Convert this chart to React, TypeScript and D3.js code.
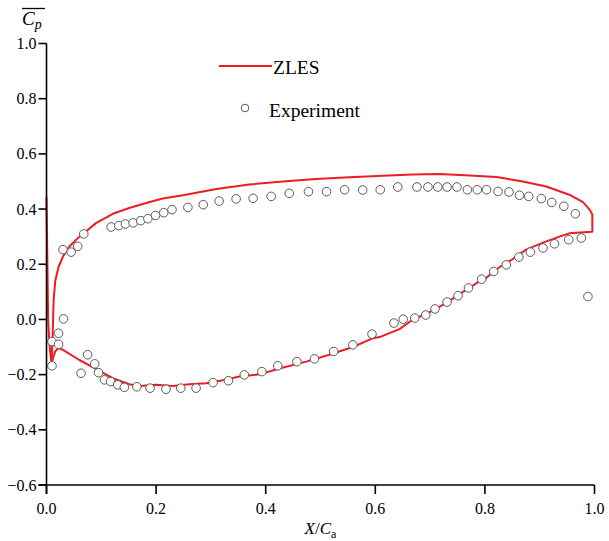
import React from "react";
import * as d3 from "d3";

const xTicks = [0, 0.2, 0.4, 0.6, 0.8, 1.0];
const yTicks = [-0.6, -0.4, -0.2, 0, 0.2, 0.4, 0.6, 0.8, 1.0];

// ZLES line: leading-edge strand, upper branch, trailing edge, lower branch back to LE
const zlesLeadingEdge: [number, number][] = [
  [0.0, 0.445], [0.001, 0.3], [0.002, 0.15], [0.003, 0.0], [0.005, -0.08], [0.009, -0.16],
];
const zlesUpper: [number, number][] = [
  [0.011, -0.08], [0.012, 0.0], [0.013, 0.07], [0.016, 0.14], [0.022, 0.19], [0.03, 0.228],
  [0.042, 0.265], [0.06, 0.3], [0.091, 0.35], [0.121, 0.383], [0.151, 0.404], [0.182, 0.422],
  [0.212, 0.438], [0.249, 0.45], [0.31, 0.473], [0.37, 0.489], [0.431, 0.5], [0.492, 0.509],
  [0.553, 0.515], [0.614, 0.521], [0.668, 0.525], [0.717, 0.527], [0.772, 0.522], [0.821, 0.516],
  [0.869, 0.5], [0.912, 0.482], [0.954, 0.452], [0.979, 0.425], [0.991, 0.398], [0.996, 0.38],
  [0.996, 0.318],
];
const zlesLower: [number, number][] = [
  [0.973, 0.315], [0.954, 0.312], [0.936, 0.3], [0.912, 0.283], [0.875, 0.253], [0.851, 0.219],
  [0.827, 0.19], [0.802, 0.15], [0.79, 0.138], [0.76, 0.1], [0.729, 0.059], [0.698, 0.025],
  [0.668, -0.001], [0.644, -0.035], [0.608, -0.064], [0.596, -0.068], [0.559, -0.1],
  [0.516, -0.128], [0.474, -0.153], [0.425, -0.178], [0.389, -0.199], [0.352, -0.207],
  [0.322, -0.22], [0.291, -0.231], [0.261, -0.235], [0.23, -0.241], [0.2, -0.237],
  [0.17, -0.241], [0.151, -0.235], [0.121, -0.213], [0.091, -0.18], [0.06, -0.147],
  [0.03, -0.11], [0.022, -0.104], [0.016, -0.115], [0.012, -0.14], [0.009, -0.16],
];

const expUpper: [number, number][] = [
  [0.03, 0.253], [0.045, 0.244], [0.057, 0.265], [0.068, 0.31], [0.118, 0.335], [0.132, 0.34],
  [0.144, 0.346], [0.158, 0.35], [0.172, 0.358], [0.185, 0.365], [0.199, 0.377], [0.214, 0.387],
  [0.229, 0.398], [0.258, 0.406], [0.286, 0.416], [0.315, 0.429], [0.346, 0.437], [0.377, 0.439],
  [0.41, 0.446], [0.443, 0.457], [0.478, 0.463], [0.511, 0.463], [0.544, 0.47], [0.577, 0.469],
  [0.609, 0.47], [0.641, 0.48], [0.676, 0.48], [0.696, 0.48], [0.714, 0.48], [0.731, 0.48],
  [0.749, 0.48], [0.768, 0.47], [0.786, 0.47], [0.803, 0.47], [0.824, 0.464], [0.844, 0.462],
  [0.863, 0.45], [0.88, 0.446], [0.903, 0.438], [0.922, 0.424], [0.944, 0.41], [0.965, 0.383],
];
const expLower: [number, number][] = [
  [0.031, 0.002], [0.022, -0.05], [0.01, -0.08], [0.022, -0.09], [0.01, -0.168], [0.063, -0.195],
  [0.075, -0.128], [0.088, -0.161], [0.095, -0.193], [0.106, -0.219], [0.117, -0.225],
  [0.13, -0.237], [0.142, -0.246], [0.165, -0.244], [0.189, -0.249], [0.218, -0.253],
  [0.245, -0.249], [0.273, -0.249], [0.304, -0.229], [0.332, -0.222], [0.361, -0.201],
  [0.393, -0.189], [0.422, -0.168], [0.457, -0.153], [0.489, -0.143], [0.524, -0.116],
  [0.559, -0.092], [0.594, -0.053], [0.634, -0.013], [0.651, 0.001], [0.672, 0.005],
  [0.692, 0.016], [0.709, 0.038], [0.731, 0.063], [0.751, 0.086], [0.77, 0.114], [0.794, 0.146],
  [0.816, 0.174], [0.839, 0.198], [0.862, 0.226], [0.883, 0.244], [0.906, 0.259], [0.927, 0.274],
  [0.953, 0.289], [0.976, 0.295], [0.988, 0.083],
];

const W = 609;
const H = 541;
const X0 = 46.5;
const X1 = 594.5;
const Y0 = 485;
const Y1 = 43.5;
const RED = "#ee1c24";
const FONT = "Times New Roman, Liberation Serif, Tinos, DejaVu Serif, serif";
const tstyle = { fontFamily: FONT };

export default function App() {
  const x = d3.scaleLinear().domain([0, 1]).range([X0, X1]);
  const y = d3.scaleLinear().domain([-0.6, 1.0]).range([Y0, Y1]);
  const line = d3
    .line<[number, number]>()
    .x((d) => x(d[0]))
    .y((d) => y(d[1]));
  const zles = [...zlesLeadingEdge, ...zlesUpper, ...zlesLower];
  const exp = [...expUpper, ...expLower];

  return (
    <svg
      width={W}
      height={H}
      style={{ position: "absolute", left: 0, top: 0, background: "#fff", fontFamily: FONT }}
    >
      <rect width={W} height={H} fill="#fff" />
      {/* ZLES line */}
      <path d={line(zles) || ""} fill="none" stroke={RED} strokeWidth={2} strokeLinejoin="round" />
      {/* Experiment points */}
      {exp.map((d, i) => (
        <circle key={i} cx={x(d[0])} cy={y(d[1])} r={4.3} fill="#fff" stroke="#5a5a5a" strokeWidth={1} />
      ))}
      {/* Axes */}
      <line x1={X0} x2={X0} y1={Y1} y2={Y0 + 9} stroke="#000" strokeWidth={1.6} />
      <line x1={X0 - 8} x2={X1} y1={Y0} y2={Y0} stroke="#000" strokeWidth={1.6} />
      {yTicks.map((t) => (
        <g key={"y" + t}>
          <line x1={X0 - 8} x2={X0} y1={y(t)} y2={y(t)} stroke="#000" strokeWidth={1.6} />
          <text x={X0 - 10} y={y(t) + 5.5} textAnchor="end" fontSize={16} fill="#000" style={tstyle}>
            {d3.format(".1f")(t)}
          </text>
        </g>
      ))}
      {xTicks.map((t) => (
        <g key={"x" + t}>
          <line x1={x(t)} x2={x(t)} y1={Y0} y2={Y0 + 9} stroke="#000" strokeWidth={1.6} />
          <text x={x(t)} y={Y0 + 29} textAnchor="middle" fontSize={16} fill="#000" style={tstyle}>
            {d3.format(".1f")(t)}
          </text>
        </g>
      ))}
      {/* Axis titles */}
      <text x={x(0.5)} y={534} textAnchor="middle" fontSize={17} fill="#000" style={tstyle}>
        <tspan fontStyle="italic">X</tspan>
        <tspan>/</tspan>
        <tspan fontStyle="italic">C</tspan>
        <tspan fontSize={12} dy={4}>a</tspan>
      </text>
      <line x1={22} x2={45} y1={8.5} y2={8.5} stroke="#000" strokeWidth={1.3} />
      <text x={22} y={25} fontSize={19} fill="#000" fontStyle="italic" style={tstyle}>
        <tspan>C</tspan>
        <tspan fontSize={14} dy={4}>p</tspan>
      </text>
      {/* Legend */}
      <line x1={219} x2={272} y1={66} y2={66} stroke={RED} strokeWidth={2} />
      <text x={273} y={74} fontSize={19.5} fill="#000" style={tstyle}>ZLES</text>
      <circle cx={245} cy={108} r={3.8} fill="#fff" stroke="#5a5a5a" strokeWidth={1} />
      <text x={269} y={117} fontSize={19.5} fill="#000" style={tstyle}>Experiment</text>
    </svg>
  );
}
